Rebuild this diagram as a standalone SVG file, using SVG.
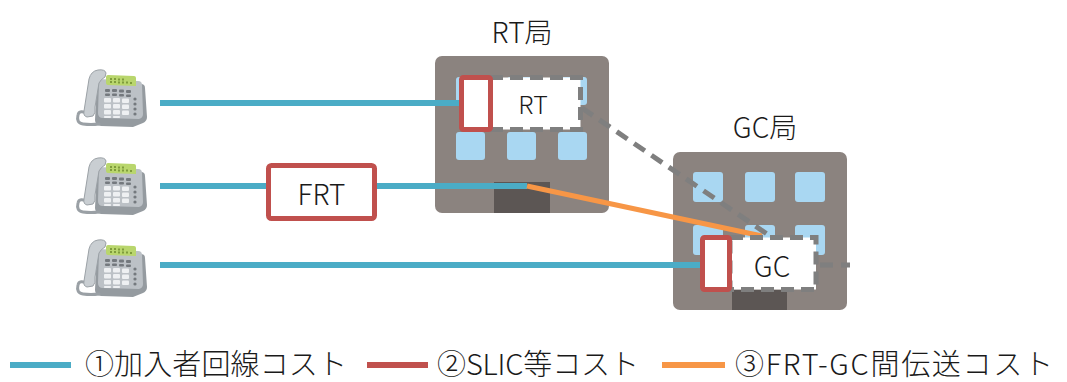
<svg xmlns="http://www.w3.org/2000/svg" xmlns:xlink="http://www.w3.org/1999/xlink" width="1067" height="382" viewBox="0 0 1067 382">
  <style>
    text { font-family: "Noto Sans CJK JP", "Noto Sans", sans-serif; fill: #1a1a1a; font-weight: 300; }
    .title { font-size: 28px; text-anchor: middle; }
    .label { font-size: 28px; text-anchor: middle; }
    .legend { font-size: 29px; }
    .bldg { fill: #8b837f; }
    .win { fill: #a9d7f2; }
    .door { fill: #5c5654; }
    .slic { fill: #ffffff; stroke: #c0504d; stroke-width: 5; }
    .unit { fill: #ffffff; stroke: #7f7f7f; stroke-width: 5; stroke-dasharray: 13 7; }
    .sub { stroke: #4bacc6; stroke-width: 6; fill: none; }
    .trunk { stroke: #7f7f7f; stroke-width: 5; stroke-dasharray: 13 8; fill: none; }
    .frtgc { stroke: #f79646; stroke-width: 5; fill: none; }
  </style>
  <defs>
    <!-- desk telephone icon, 72 x 58 -->
    <symbol id="phone" viewBox="0 0 72 58" width="72" height="58">
      <path d="M22,13 L66,15 Q70,15 70,19 L72,48 Q72,52 68,54 L58,58 L26,57 Q20,56 20,51 Z" fill="#959ba0"/>
      <path d="M24,10 L63,12 Q67,12 67,16 L68,45 Q68,49 64,50 L28,49 Q23,49 23,44 Z" fill="#bcc1c6"/>
      <path d="M33,6 L59,7 Q61,7 61,9 L61,17 L33,16 Q31,16 31,14 L31,8 Q31,6 33,6 Z" fill="#b9d66d"/>
      <g fill="#7f9c3c">
        <rect x="35" y="9" width="2" height="2"/><rect x="39" y="9" width="2" height="2"/>
        <rect x="43" y="9.5" width="2" height="2"/><rect x="47" y="9.5" width="2" height="2"/>
        <rect x="35" y="12" width="2" height="2"/><rect x="39" y="12" width="2" height="2"/>
        <rect x="43" y="12.5" width="2" height="2"/><rect x="47" y="12.5" width="2" height="2"/>
        <rect x="51" y="12.5" width="2" height="2"/><rect x="55" y="13" width="2" height="2"/>
      </g>
      <g fill="#74797e">
        <rect x="30" y="20" width="5" height="3" rx="1"/><rect x="37" y="20" width="5" height="3" rx="1"/>
        <rect x="44" y="20.5" width="5" height="3" rx="1"/><rect x="51" y="21" width="5" height="3" rx="1"/>
        <rect x="30" y="24.5" width="5" height="2.5" rx="1"/><rect x="37" y="24.5" width="5" height="2.5" rx="1"/>
        <rect x="44" y="25" width="5" height="2.5" rx="1"/><rect x="51" y="25.5" width="5" height="2.5" rx="1"/>
        <circle cx="60" cy="30" r="1.6"/><circle cx="60" cy="35" r="1.6"/>
        <circle cx="60" cy="40" r="1.6"/><circle cx="60" cy="45" r="1.6"/>
      </g>
      <g fill="#eef0f2">
        <rect x="29" y="29" width="7" height="4.5" rx="1"/><rect x="38" y="29" width="7" height="4.5" rx="1"/><rect x="47" y="29.5" width="7" height="4.5" rx="1"/>
        <rect x="29" y="35" width="7" height="4.5" rx="1"/><rect x="38" y="35" width="7" height="4.5" rx="1"/><rect x="47" y="35.5" width="7" height="4.5" rx="1"/>
        <rect x="29" y="41" width="7" height="4.5" rx="1"/><rect x="38" y="41" width="7" height="4.5" rx="1"/><rect x="47" y="41.5" width="7" height="4.5" rx="1"/>
        <rect x="29" y="47" width="7" height="2" rx="0.8"/><rect x="38" y="47" width="7" height="2" rx="0.8"/>
      </g>
      <path d="M14,45 Q4,40 3,46 Q1,54 8,55 Q16,56 24,55" fill="none" stroke="#9aa0a5" stroke-width="3" stroke-linecap="round"/>
      <path d="M23,1 Q30,0 31,4 L30,8 Q26,10 24,14 L20,38 Q21,44 18,47 L12,48 Q8,47 9,42 L14,10 Q16,2 23,1 Z" fill="#c9ced2" stroke="#9ba1a6" stroke-width="1"/>
    </symbol>
  </defs>

  <!-- subscriber telephones -->
  <g id="phone1"><use xlink:href="#phone" x="75" y="69"/></g>
  <g id="phone2"><use xlink:href="#phone" x="75" y="157"/></g>
  <g id="phone3"><use xlink:href="#phone" x="75" y="239"/></g>

  <!-- RT office building -->
  <g id="rt-office">
    <text class="title" x="522" y="43">RT局</text>
    <rect class="bldg" x="435" y="56" width="174" height="157" rx="7"/>
    <rect class="win" x="456" y="77" width="29" height="28" rx="3"/>
    <rect class="win" x="507" y="77" width="29" height="28" rx="3"/>
    <rect class="win" x="558" y="77" width="29" height="28" rx="3"/>
    <rect class="win" x="456" y="132" width="29" height="28" rx="3"/>
    <rect class="win" x="507" y="132" width="29" height="28" rx="3"/>
    <rect class="win" x="558" y="132" width="29" height="28" rx="3"/>
    <rect class="door" x="494" y="182" width="56" height="31"/>
  </g>

  <!-- GC office building -->
  <g id="gc-office">
    <text class="title" x="765" y="138">GC局</text>
    <rect class="bldg" x="673" y="152" width="174" height="158" rx="7"/>
    <rect class="win" x="693" y="172" width="30" height="30" rx="3"/>
    <rect class="win" x="745" y="172" width="30" height="30" rx="3"/>
    <rect class="win" x="795" y="172" width="30" height="30" rx="3"/>
    <rect class="win" x="693" y="225" width="30" height="30" rx="3"/>
    <rect class="win" x="745" y="225" width="30" height="30" rx="3"/>
    <rect class="win" x="795" y="225" width="30" height="30" rx="3"/>
    <rect class="door" x="732" y="290" width="55" height="20"/>
  </g>

  <!-- connectors -->
  <g id="connectors">
    <line class="sub" x1="160" y1="103" x2="462" y2="103"/>
    <line class="sub" x1="160" y1="186" x2="268" y2="186"/>
    <line class="sub" x1="376" y1="186" x2="527" y2="186"/>
    <line class="sub" x1="160" y1="265" x2="702" y2="265"/>
    <line class="frtgc" x1="527" y1="186" x2="762" y2="236"/>
    <line class="trunk" x1="582" y1="108" x2="770" y2="236"/>
    <line class="trunk" x1="820" y1="265" x2="850" y2="265"/>
  </g>

  <!-- RT unit with its SLIC -->
  <g id="rt-unit">
    <rect class="unit" x="490" y="77.5" width="90.5" height="52"/>
    <rect class="slic" x="461.5" y="77.5" width="29" height="52" rx="2"/>
    <text class="label" x="533" y="114" style="font-size:25px">RT</text>
  </g>

  <!-- FRT -->
  <g id="frt">
    <rect class="slic" x="268.5" y="165.5" width="106" height="53" rx="3"/>
    <text class="label" x="321.5" y="205">FRT</text>
  </g>

  <!-- GC unit with its SLIC -->
  <g id="gc-unit">
    <rect class="unit" x="730" y="237.5" width="86" height="52"/>
    <rect class="slic" x="702.5" y="237.5" width="27" height="52" rx="2"/>
    <text class="label" x="772" y="277">GC</text>
  </g>

  <!-- legend -->
  <g id="legend">
    <line class="sub" x1="10" y1="365" x2="71" y2="365"/>
    <text class="legend" x="85" y="375" textLength="262" lengthAdjust="spacing">①加入者回線コスト</text>
    <line stroke="#c0504d" stroke-width="6" x1="367" y1="365" x2="428" y2="365"/>
    <text class="legend" x="437" y="375" textLength="202" lengthAdjust="spacing">②SLIC等コスト</text>
    <line stroke="#f79646" stroke-width="6" x1="662" y1="365" x2="725" y2="365"/>
    <text class="legend" x="735" y="375" textLength="318" lengthAdjust="spacing">③FRT-GC間伝送コスト</text>
  </g>
</svg>
